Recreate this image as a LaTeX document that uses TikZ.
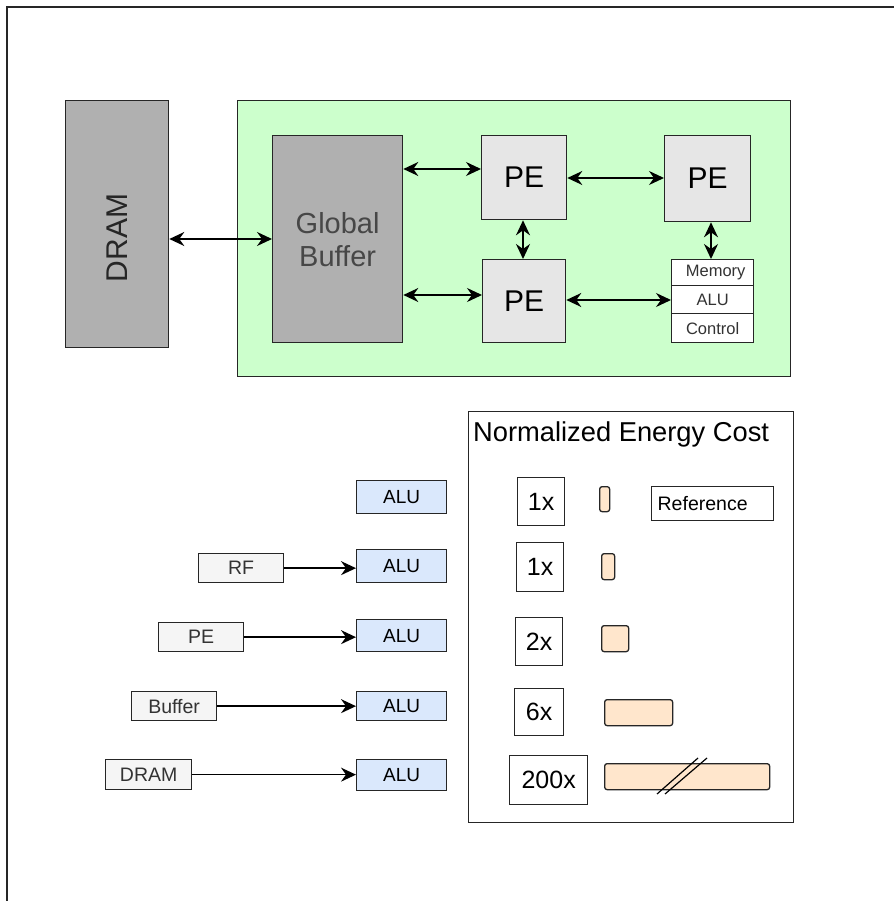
\documentclass[tikz,border=0pt]{standalone}
\usepackage{fontspec}
\setmainfont{Liberation Sans}
\usetikzlibrary{arrows.meta}
\definecolor{dramgray}{HTML}{B0B0B0}
\definecolor{greenbg}{HTML}{CCFFCC}
\definecolor{pegray}{HTML}{E6E6E6}
\definecolor{alublue}{HTML}{DAE8FC}
\definecolor{srcgray}{HTML}{F5F5F5}
\definecolor{peach}{HTML}{FFE6CC}
\definecolor{txtgray}{HTML}{333333}
\newcommand{\fs}[1]{\fontsize{#1}{#1}\selectfont}
\tikzset{
  box/.style={draw=black!85, line width=1.3pt, inner sep=0pt, anchor=north west},
  conn/.style={line width=1.6pt, {Stealth[length=15pt,width=14pt,inset=5pt]}-{Stealth[length=15pt,width=14pt,inset=5pt]}},
  oneway/.style={line width=1.4pt, -{Stealth[length=15pt,width=14pt,inset=5pt]}},
  alubox/.style={box, fill=alublue, minimum width=90pt, font=\fs{19}},
  srcbox/.style={box, fill=srcgray, text=txtgray, minimum width=85pt, font=\fs{19.5}},
  numbox/.style={box, fill=white, font=\fs{25}},
  bar/.style={box, fill=peach, rounded corners=2.5pt},
  stackbox/.style={box, fill=white, text=txtgray, minimum width=82pt, font=\fs{16.5}},
}
\begin{document}
\begin{tikzpicture}[x=1pt,y=-1pt]
\useasboundingbox (0,0) rectangle (894,901);
% outer frame (cropped)
\draw[line width=1.3pt, black!85] (7,901) -- (7,7) -- (894,7);

% DRAM
\node[box, fill=dramgray, minimum width=103pt, minimum height=247pt] (dram) at (65,100) {};
\node[rotate=90, font=\fs{30}, text=black!85] (dramlbl) at (117,238) {DRAM};

% chip
\node[box, fill=greenbg, minimum width=553pt, minimum height=276pt] (chip) at (237,100) {};
\node[box, fill=dramgray, text=txtgray!90, minimum width=130pt, minimum height=207pt, font=\fs{29}, align=center] (gb) at (272,135) {Global\\[4pt]Buffer};
\node[box, fill=pegray, minimum width=85pt, minimum height=84pt, font=\fs{30}] (pe1) at (481,135) {PE};
\node[box, fill=pegray, minimum width=86pt, minimum height=86pt, font=\fs{30}] (pe2) at (664,135) {PE};
\node[box, fill=pegray, minimum width=83pt, minimum height=83pt, font=\fs{30}] (pe3) at (482,259) {PE};
\node[stackbox, minimum height=26pt] (mem) at (671,259) {\hspace{6pt}Memory};
\node[stackbox, minimum height=28pt] (salu) at (671,285) {ALU\hspace{4pt}};
\node[stackbox, minimum height=29pt] (ctrl) at (671,313) {Control\hspace{4pt}};

\draw[conn] (dram.east |- 0,239) -- (gb.west |- 0,239);
\draw[conn] (gb.east |- 0,169) -- (pe1.west |- 0,169);
\draw[conn] (gb.east |- 0,295) -- (pe3.west |- 0,295);
\draw[conn] (pe1.east |- 0,178) -- (pe2.west |- 0,178);
\draw[conn] (pe3.east |- 0,300) -- (salu.west |- 0,300);
\draw[conn] (pe1.south -| 523,0) -- (pe3.north -| 523,0);
\draw[conn] (pe2.south -| 711,0) -- (mem.north -| 711,0);

% left column
\node[alubox, minimum height=33pt] (alu1) at (356,480) {ALU};
\node[alubox, minimum height=33pt] (alu2) at (356,549) {ALU};
\node[alubox, minimum height=32pt] (alu3) at (356,619) {ALU};
\node[alubox, minimum height=29pt] (alu4) at (356,691) {ALU};
\node[alubox, minimum height=31pt] (alu5) at (356,759) {ALU};

\node[srcbox, minimum height=29pt] (rf) at (198,553) {RF};
\node[srcbox, minimum height=29pt] (pe) at (158,622) {PE};
\node[srcbox, minimum height=29pt] (buf) at (131,691) {Buffer};
\node[srcbox, minimum height=30pt, minimum width=86pt] (dr) at (105,759) {DRAM};

\draw[oneway] (rf.east) -- (alu2.west |- rf.east);
\draw[oneway] (pe.east) -- (alu3.west |- pe.east);
\draw[oneway] (buf.east) -- (alu4.west |- buf.east);
\draw[oneway] (dr.east) -- (alu5.west |- dr.east);

% energy panel
\node[box, fill=white, minimum width=325pt, minimum height=411pt] (panel) at (468,411) {};
\node[anchor=base west, font=\fs{27.3}, inner sep=0pt] (title) at (473,441) {Normalized Energy Cost};

\node[numbox, minimum width=47pt, minimum height=48pt] (n1) at (517,477) {1x};
\node[bar, minimum width=10pt, minimum height=25pt] (b1) at (599,486) {};
\node[box, fill=white, minimum width=122pt, minimum height=34pt, font=\fs{19.5}, align=left, text width=110pt, inner xsep=6pt] (ref) at (651,486) {Reference};

\node[numbox, minimum width=47pt, minimum height=49pt] (n2) at (516,542) {1x};
\node[bar, minimum width=13pt, minimum height=26pt] (b2) at (601,553) {};

\node[numbox, minimum width=47pt, minimum height=48pt] (n3) at (515,617) {2x};
\node[bar, minimum width=27pt, minimum height=26pt] (b3) at (601,625) {};

\node[numbox, minimum width=49pt, minimum height=47pt] (n4) at (514,688) {6x};
\node[bar, minimum width=68pt, minimum height=26pt] (b4) at (604,699) {};

\node[numbox, minimum width=78pt, minimum height=49pt] (n5) at (509,755) {200x};
\node[bar, minimum width=165pt, minimum height=26pt] (b5) at (604,763) {};
\coordinate (s1a) at (657,794);
\coordinate (s1b) at (698,758);
\coordinate (s2a) at (665,794);
\coordinate (s2b) at (707,758);
\draw[line width=1.2pt] (s1a) -- (s1b);
\draw[line width=1.2pt] (s2a) -- (s2b);
\end{tikzpicture}
\end{document}
